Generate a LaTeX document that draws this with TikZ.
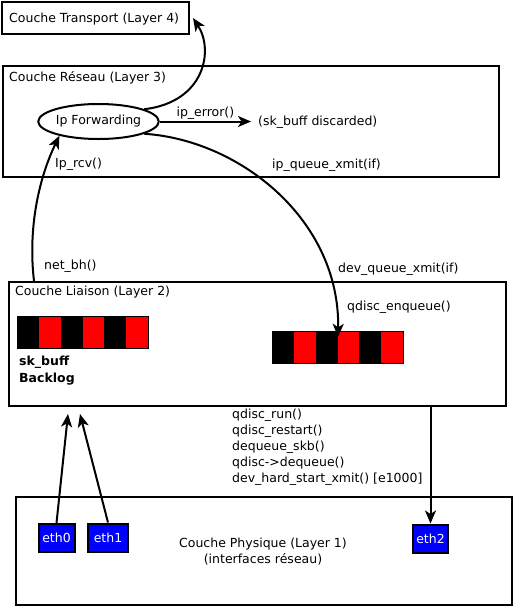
\documentclass[tikz,border=0pt]{standalone}
\usepackage{fontspec}
\setmainfont{DejaVu Sans}
\usetikzlibrary{arrows.meta,calc,shapes.geometric}

\tikzset{
  layer/.style={draw,line width=2pt,anchor=north west,inner sep=0pt},
  txt/.style={anchor=base west,inner sep=0pt},
  iface/.style={draw,line width=2pt,fill=blue,text=white,inner sep=0pt,minimum width=36pt,minimum height=28pt},
  flow/.style={line width=2pt,-{Stealth[length=13pt,width=11pt,inset=3.5pt]}},
  queue/.style={inner sep=0pt,minimum width=130pt,minimum height=31pt},
}

\begin{document}
\begin{tikzpicture}[x=1pt,y=-1pt,font=\fontsize{12.5}{16}\selectfont]
\useasboundingbox (0,0) rectangle (513,606);
\node[layer,minimum width=187pt,minimum height=32pt] (transport) at (1,1) {};
\node[layer,minimum width=496pt,minimum height=111pt] (reseau) at (2,65) {};
\node[layer,minimum width=497pt,minimum height=124pt] (liaison) at (8,281) {};
\node[layer,minimum width=496pt,minimum height=108pt] (physique) at (15,496) {};
\node[txt] (l4) at (9,22) {Couche Transport (Layer 4)};
\node[txt] (l3) at (9,81) {Couche Réseau (Layer 3)};
\node[txt] (l2) at (15,295) {Couche Liaison (Layer 2)};
\node[align=center,anchor=north,inner sep=0pt] (l1) at (263,538) {Couche Physique (Layer 1)\\(interfaces réseau)};

\node[draw,ellipse,line width=2pt,minimum width=117pt,minimum height=35pt,inner sep=0pt] (ipfwd) at (98.5,121.5) {Ip Forwarding};
\node[txt] (discard) at (258,125) {(sk\_buff discarded)};
\draw[flow] (ipfwd.east) -- node[above=1pt,inner sep=0pt] (iperr) {ip\_error()} ($(ipfwd.east -| discard.west)+(-7,0)$);
\draw[flow] (ipfwd.15) .. controls (205,102) and (214,50) .. ([xshift=3pt]transport.east);

\node[queue] (q1) at (83,332.5) {};
\node[queue] (q2) at (338,347.5) {};
\foreach \q in {q1,q2}{
  \foreach \i/\c in {0/black,1/red,2/black,3/red,4/black,5/red}
    \fill[\c] ($(\q.north west)+(\i*21.667,0)$) rectangle +(21.667,31);
  \draw[line width=1pt] (\q.north west) rectangle (\q.south east);
}
\node[anchor=north west,align=left,inner sep=0pt,font=\bfseries\fontsize{12.5}{17}\selectfont] (backlog) at (19,355.5) {sk\_buff\\Backlog};

\draw[flow] (ipfwd.-15) .. controls (240,140) and (340,220) .. ([yshift=-5pt]q2.north);
\coordinate (bh) at ([xshift=26pt]liaison.north west);
\draw[flow] (bh) .. controls (28,230) and (38,180) .. (ipfwd.200);
\node[txt] (rcv) at (55,167) {Ip\_rcv()};
\node[txt] (nbh) at (44,269) {net\_bh()};
\node[txt] (qx) at (272,168) {ip\_queue\_xmit(if)};
\node[txt] (dqx) at (338,272) {dev\_queue\_xmit(if)};
\node[txt] (enq) at (347,310) {qdisc\_enqueue()};

\node[anchor=north west,align=left,inner sep=0pt] (xmit) at (232,408.5) {qdisc\_run()\\qdisc\_restart()\\dequeue\_skb()\\qdisc->dequeue()\\dev\_hard\_start\_xmit() [e1000]};

\node[iface] (eth0) at (56.5,538) {eth0};
\node[iface,minimum width=40pt] (eth1) at (108,537.5) {eth1};
\node[iface,minimum width=35pt] (eth2) at (430.5,538.5) {eth2};
\draw[flow] (eth0.north) -- ([xshift=60pt,yshift=-7pt]liaison.south west);
\draw[flow] (eth1.north) -- ([xshift=72pt,yshift=-7pt]liaison.south west);
\draw[flow] (eth2.north |- liaison.south) -- (eth2.north);
\end{tikzpicture}
\end{document}
